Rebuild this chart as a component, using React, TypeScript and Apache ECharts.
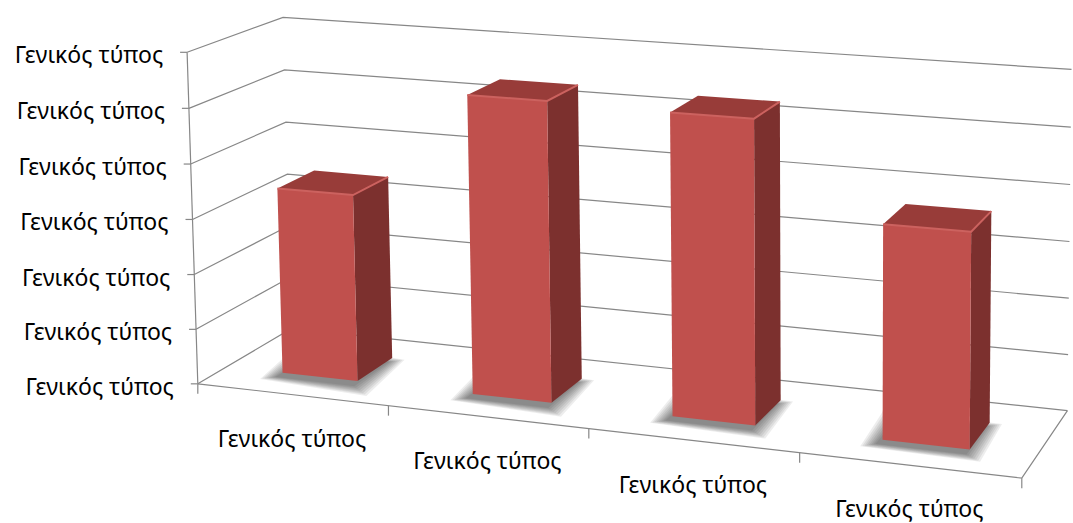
import { useEffect, useRef } from 'react';
import * as echarts from 'echarts';

// ---- data ----
const categories = ['Γενικός τύπος', 'Γενικός τύπος', 'Γενικός τύπος', 'Γενικός τύπος'];
const values = [3.4, 5.36, 5.32, 3.7];
const valueTicks = [0, 1, 2, 3, 4, 5, 6];
const valueTickLabels = [
  'Γενικός τύπος',
  'Γενικός τύπος',
  'Γενικός τύπος',
  'Γενικός τύπος',
  'Γενικός τύπος',
  'Γενικός τύπος',
  'Γενικός τύπος',
];

// ---- layout ----
const WIDTH = 1073;
const HEIGHT = 523;
// hidden cartesian grid that supplies the scales; its unit square is then
// projected onto the perspective box below
const GRID = { left: 0, top: 0, width: 400, height: 300 };
const BAR_WIDTH = 0.4; // fraction of a category band
const BAR_FRONT = 0.3; // depth of the bar's front face (0 = front, 1 = back wall)
const BAR_BACK = 0.7;
const FONT = 'Noto Sans';
const FONT_SIZE = 23;
const GRID_COLOR = '#878787';

// Perspective box: [X across, Y up, Z depth] in unit box -> screen pixel
const BOX_ANCHORS: number[][] = [
  [0, 0, 0, 200, 382],
  [0, 1 / 6, 0, 197, 330],
  [0, 2 / 6, 0, 195, 275],
  [0, 3 / 6, 0, 193, 220],
  [0, 4 / 6, 0, 190, 164],
  [0, 5 / 6, 0, 188, 108],
  [0, 1, 0, 185, 52],
  [0.25, 0, 0, 388, 407],
  [0.5, 0, 0, 588, 428],
  [0.75, 0, 0, 800, 453],
  [1, 0, 0, 1022, 478],
  [0, 0, 1, 288, 329],
  [0, 1, 1, 284, 17],
  [0, 5 / 6, 1, 286, 70],
  [0, 4 / 6, 1, 287, 122],
  [1, 0, 1, 1068, 410],
  [1, 1, 1, 1071, 70],
];

const NORM_CX = 536;
const NORM_CY = 260;
const NORM_S = 500;

// Least-squares fit of a 3x4 projective camera (DLT, P[2][3] = 1)
function fitCamera(anchors: number[][]): number[] {
  const n = 11;
  const M: number[][] = Array.from({ length: n }, () => new Array(n + 1).fill(0));
  const addRow = (row: number[], rhs: number) => {
    for (let i = 0; i < n; i++) {
      for (let j = 0; j < n; j++) M[i][j] += row[i] * row[j];
      M[i][n] += row[i] * rhs;
    }
  };
  for (const [X, Y, Z, su, sv] of anchors) {
    const u = (su - NORM_CX) / NORM_S;
    const v = (sv - NORM_CY) / NORM_S;
    addRow([X, Y, Z, 1, 0, 0, 0, 0, -u * X, -u * Y, -u * Z], u);
    addRow([0, 0, 0, 0, X, Y, Z, 1, -v * X, -v * Y, -v * Z], v);
  }
  for (let c = 0; c < n; c++) {
    let piv = c;
    for (let r = c + 1; r < n; r++) if (Math.abs(M[r][c]) > Math.abs(M[piv][c])) piv = r;
    [M[c], M[piv]] = [M[piv], M[c]];
    for (let r = 0; r < n; r++) {
      if (r === c) continue;
      const f = M[r][c] / M[c][c];
      for (let k = c; k <= n; k++) M[r][k] -= f * M[c][k];
    }
  }
  return M.map((row, i) => row[n] / row[i]);
}

const CAM = fitCamera(BOX_ANCHORS);

function project(X: number, Y: number, Z: number): number[] {
  const c = CAM;
  const w = c[8] * X + c[9] * Y + c[10] * Z + 1;
  const u = (c[0] * X + c[1] * Y + c[2] * Z + c[3]) / w;
  const v = (c[4] * X + c[5] * Y + c[6] * Z + c[7]) / w;
  return [u * NORM_S + NORM_CX, v * NORM_S + NORM_CY];
}

const toX = (px: number) => (px - GRID.left) / GRID.width;
const toY = (py: number) => (GRID.top + GRID.height - py) / GRID.height;

function gridRender(params: any, api: any) {
  const t = api.value(1);
  const Y = toY(api.coord([0, t])[1]);
  const a = project(0, Y, 0);
  const b = project(0, Y, 1);
  const c = project(1, Y, 1);
  const line = { stroke: GRID_COLOR, lineWidth: 1.2 };
  const children: any[] = [
    { type: 'polyline', shape: { points: [a, b, c] }, style: { ...line, fill: null } },
    { type: 'line', shape: { x1: a[0] - 7, y1: a[1], x2: a[0], y2: a[1] }, style: line },
    {
      type: 'text',
      x: a[0] - 24,
      y: a[1] + 2,
      style: {
        text: valueTickLabels[params.dataIndex],
        fill: '#000',
        fontSize: FONT_SIZE,
        fontFamily: FONT,
        align: 'right',
        verticalAlign: 'middle',
      },
    },
  ];
  if (params.dataIndex === 0) {
    const f0 = project(0, 0, 0);
    const f1 = project(1, 0, 0);
    const b1 = project(1, 0, 1);
    const top = project(0, 1, 0);
    children.push(
      { type: 'line', shape: { x1: f0[0], y1: f0[1], x2: top[0], y2: top[1] }, style: line },
      { type: 'polyline', shape: { points: [f0, f1, b1] }, style: { ...line, fill: null } }
    );
  }
  return { type: 'group', children };
}

// soft contact shadow: stacked, widening translucent copies of the footprint
function shadowLayers(pts: number[][]): any[] {
  const cx = pts.reduce((s, p) => s + p[0], 0) / pts.length;
  const cy = pts.reduce((s, p) => s + p[1], 0) / pts.length;
  const layers: any[] = [];
  for (let k = 8; k >= 1; k--) {
    const d = k * 2.2;
    const grown = pts.map(([x, y]) => {
      const dx = x - cx;
      const dy = y - cy;
      const len = Math.hypot(dx, dy) || 1;
      return [x + (dx / len) * d - 5, y + (dy / len) * d + 4];
    });
    layers.push({
      type: 'polygon',
      shape: { points: grown },
      style: { fill: 'rgba(0,0,0,0.07)' },
    });
  }
  return layers;
}

function barRender(_params: any, api: any) {
  const idx = api.value(0);
  const v = api.value(1);
  const topPt = api.coord([idx, v]);
  const basePt = api.coord([idx, 0]);
  const band = api.size([1, 0])[0];
  const xL = toX(topPt[0] - (band * BAR_WIDTH) / 2);
  const xR = toX(topPt[0] + (band * BAR_WIDTH) / 2);
  const yT = toY(topPt[1]);
  const yB = toY(basePt[1]);
  const fBL = project(xL, yB, BAR_FRONT);
  const fBR = project(xR, yB, BAR_FRONT);
  const fTR = project(xR, yT, BAR_FRONT);
  const fTL = project(xL, yT, BAR_FRONT);
  const bBL = project(xL, yB, BAR_BACK);
  const bBR = project(xR, yB, BAR_BACK);
  const bTR = project(xR, yT, BAR_BACK);
  const bTL = project(xL, yT, BAR_BACK);
  return {
    type: 'group',
    children: [
      ...shadowLayers([fBL, fBR, bBR, bBL]),
      { type: 'polygon', shape: { points: [fBR, bBR, bTR, fTR] }, style: { fill: '#7C302E' } },
      { type: 'polygon', shape: { points: [fTL, fTR, bTR, bTL] }, style: { fill: '#983C39' } },
      { type: 'polygon', shape: { points: [fBL, fBR, fTR, fTL] }, style: { fill: '#C0504D' } },
      {
        type: 'polyline',
        shape: { points: [fTL, fTR, bTR] },
        style: { stroke: '#CC625F', lineWidth: 2, fill: null },
      },
    ],
  };
}

function categoryRender(params: any, api: any) {
  const idx = api.value(0);
  const c = api.coord([idx, 0]);
  const band = api.size([1, 0])[0];
  const m = project(toX(c[0]), 0, 0);
  const l = project(toX(c[0] - band / 2), 0, 0);
  const line = { stroke: GRID_COLOR, lineWidth: 1.2 };
  const children: any[] = [
    {
      type: 'text',
      x: m[0],
      y: m[1] + 43,
      style: {
        text: categories[params.dataIndex],
        fill: '#000',
        fontSize: FONT_SIZE,
        fontFamily: FONT,
        align: 'center',
        verticalAlign: 'middle',
      },
    },
    { type: 'line', shape: { x1: l[0], y1: l[1], x2: l[0], y2: l[1] + 10 }, style: line },
  ];
  if (params.dataIndex === categories.length - 1) {
    const r = project(toX(c[0] + band / 2), 0, 0);
    children.push({ type: 'line', shape: { x1: r[0], y1: r[1], x2: r[0], y2: r[1] + 10 }, style: line });
  }
  return { type: 'group', children };
}

export default function App() {
  const ref = useRef<HTMLDivElement>(null);
  useEffect(() => {
    if (!ref.current) return;
    const chart = echarts.init(ref.current, null, { renderer: 'svg' });
    chart.setOption({
      animation: false,
      backgroundColor: '#ffffff',
      grid: { ...GRID, containLabel: false },
      xAxis: { type: 'category', data: categories, show: false },
      yAxis: { type: 'value', min: 0, max: 6, interval: 1, show: false },
      series: [
        {
          type: 'custom',
          z: 1,
          clip: false,
          silent: true,
          renderItem: gridRender,
          data: valueTicks.map((t) => [0, t]),
        },
        {
          type: 'custom',
          z: 2,
          clip: false,
          silent: true,
          renderItem: barRender,
          data: values.map((v, i) => [i, v]),
        },
        {
          type: 'custom',
          z: 3,
          clip: false,
          silent: true,
          renderItem: categoryRender,
          data: categories.map((_c, i) => [i, 0]),
        },
      ],
    });
    return () => chart.dispose();
  }, []);
  return (
    <div
      ref={ref}
      style={{ position: 'fixed', left: 0, top: 0, width: WIDTH, height: HEIGHT, background: '#fff' }}
    />
  );
}
